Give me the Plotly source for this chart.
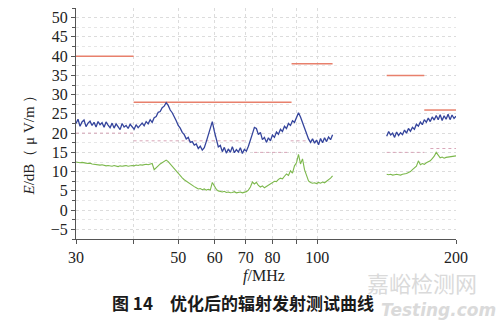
import numpy as np
import plotly.graph_objects as go

# ---- data ----
seg1_range = (30, 108)     # MHz, first measured band
seg2_range = (141.5, 200)  # MHz, second measured band

blue1 = [22.5, 23.6, 21.8, 22.9, 23.4, 21.7, 22.6, 23.1, 22.0, 22.8, 21.6, 23.0, 22.2, 22.7, 21.5, 22.9,
         22.1, 21.4, 22.6, 21.3, 22.4, 21.8, 20.9, 22.5, 21.6, 22.0, 21.2, 22.3, 21.5, 21.0, 22.2, 21.4, 22.0,
         22.6, 21.9, 23.0, 22.4, 23.5, 22.8, 24.0,
         24.3, 25.4, 25.6, 26.6, 27.0, 27.9,
         27.2, 26.0, 25.3, 24.0, 23.2, 22.0, 21.3, 20.2, 19.6, 18.5, 18.9, 17.6,
         17.8, 16.9, 17.2, 16.0, 16.6, 15.6, 16.2,
         17.8, 19.5, 21.8, 23.0,
         20.5, 18.0, 16.4,
         16.8, 15.2, 16.3, 14.8, 15.9, 15.0, 16.5, 14.9, 15.7, 15.1, 16.2, 14.7, 15.8, 15.3, 16.6,
         18.0, 19.8, 21.5, 21.2,
         19.6, 20.2, 18.3, 18.9, 17.6,
         18.8, 18.0, 19.5, 18.9, 20.3, 19.7, 21.0, 20.4, 21.8, 21.2, 22.5, 22.0, 23.2, 22.8, 24.0, 25.3,
         24.2, 22.8, 21.2, 19.8, 18.5, 17.6,
         18.5, 17.4, 18.2, 17.0, 18.6, 17.5, 18.8, 17.8, 19.0, 18.3, 19.6]

green1 = [12.5, 12.4, 12.3, 12.4, 12.2, 12.2, 12.1, 12.2, 12.0, 11.9, 12.0, 11.8, 11.7, 11.8, 11.6, 11.5,
          11.6, 11.5, 11.4, 11.6, 11.5, 11.3, 11.5, 11.4, 11.5, 11.6, 11.4, 11.5, 11.6, 11.5, 11.7, 11.6,
          11.8, 11.7, 11.8, 11.9, 11.8, 12.0, 12.1,
          10.5, 10.9,
          11.5, 12.0, 12.4, 12.7, 13.0,
          12.6, 12.0, 11.3, 10.6, 10.0, 9.4, 8.9, 8.4, 7.9, 7.5, 7.1, 6.7, 6.4, 6.1, 5.8, 5.5,
          5.6, 5.3, 5.5, 5.2, 5.4, 5.2,
          7.2, 6.3, 5.4,
          5.0, 4.8, 4.7, 4.9, 4.6, 4.7, 4.5, 4.6, 4.8, 4.5, 4.6, 4.7, 4.5, 4.6, 4.8,
          5.2, 6.0, 7.3, 6.8, 7.2,
          6.4, 6.0, 6.3, 5.8, 6.1,
          6.4, 6.8, 7.0, 7.5, 7.4, 8.0, 8.3, 8.1, 8.8, 9.4, 9.0,
          10.2, 9.6, 11.5, 12.3, 14.5,
          12.0, 13.3, 10.5, 9.0, 7.6, 7.2,
          7.0, 7.1, 6.9, 7.2, 7.0, 7.3, 7.1, 7.5, 7.8, 8.3, 8.9]

blue2 = [19.2, 20.4, 19.5, 20.0, 18.9, 20.3, 19.4, 20.1, 19.6, 20.8, 20.0, 21.2, 20.5, 21.5, 21.0, 22.3,
         21.8, 22.9, 22.2, 23.5, 22.8, 23.9, 23.0, 24.2, 23.4, 24.6, 23.5, 24.8, 23.3, 24.5, 23.6, 24.9,
         23.5, 24.7, 23.8, 24.4]

green2 = [9.3, 9.2, 9.3, 9.1, 9.2, 9.3, 9.2, 9.1, 9.3, 9.4, 9.5,
          9.8, 10.0, 10.5, 10.9, 11.4, 12.8,
          11.8, 12.1, 11.9, 12.3,
          12.5, 12.8, 13.4, 14.0, 15.0,
          14.2, 13.6, 13.8, 13.5, 13.7, 13.8, 13.9, 14.0, 14.0, 14.1]

# limit segments: (f_start, f_end, level)
peak_limits = [(30, 40, 40), (40, 88, 28), (88, 108, 38), (141.5, 170.7, 35), (170.7, 200, 26)]
avg_limits = [(30, 40, 20), (40, 70.4, 18), (73, 87.6, 15), (87.6, 94.4, 18),
              (141.5, 170.7, 15), (176, 200, 16)]

x_tickvals = [30, 40, 50, 60, 70, 80, 90, 100, 200]
x_ticktext = ["30", "", "50", "60", "70", "80", "", "100", "200"]
y_tickvals = [50, 45, 40, 35, 30, 25, 20, 15, 10, 5, 0, -5]
y_ticktext = ["50", "45", "40", "35", "30", "25", "20", "15", "10", "5", "0", "−5"]

f1 = np.geomspace(seg1_range[0], seg1_range[1], len(blue1))
f2 = np.geomspace(seg2_range[0], seg2_range[1], len(blue2))

BLUE = "#34449c"
GREEN = "#7cb84c"
RED = "#e8806c"
PINK = "#d8a6b8"
serif = "Liberation Serif"

fig = go.Figure()

for a, b, lvl in avg_limits:
    fig.add_trace(go.Scatter(x=[a, b], y=[lvl, lvl], mode="lines",
                             line=dict(color=PINK, width=1, dash="dot"),
                             showlegend=False, hoverinfo="skip"))
for a, b, lvl in peak_limits:
    fig.add_trace(go.Scatter(x=[a, b], y=[lvl, lvl], mode="lines",
                             line=dict(color=RED, width=1.5),
                             showlegend=False, hoverinfo="skip"))

fig.add_trace(go.Scatter(x=f1, y=green1, mode="lines", line=dict(color=GREEN, width=1.1), showlegend=False))
fig.add_trace(go.Scatter(x=f2, y=green2, mode="lines", line=dict(color=GREEN, width=1.1), showlegend=False))
fig.add_trace(go.Scatter(x=f1, y=blue1, mode="lines", line=dict(color=BLUE, width=1.3), showlegend=False))
fig.add_trace(go.Scatter(x=f2, y=blue2, mode="lines", line=dict(color=BLUE, width=1.3), showlegend=False))

fig.update_layout(
    width=500, height=323,
    margin=dict(l=76, r=44, t=8, b=84),
    paper_bgcolor="white", plot_bgcolor="white",
    xaxis=dict(type="log", range=[np.log10(30), np.log10(200)],
               tickvals=x_tickvals, ticktext=x_ticktext,
               showline=True, linecolor="#555555", linewidth=1,
               ticks="outside", ticklen=4, tickcolor="#555555",
               showgrid=True, gridcolor="#dcdcdc", griddash="dot", gridwidth=1,
               tickfont=dict(family=serif, size=16, color="#222222"),
               zeroline=False),
    yaxis=dict(range=[-7.5, 52.5], tickvals=y_tickvals, ticktext=y_ticktext,
               showline=True, linecolor="#555555", linewidth=1,
               ticks="outside", ticklen=4, tickcolor="#555555",
               showgrid=True, gridcolor="#dcdcdc", griddash="dot", gridwidth=1,
               minor=dict(dtick=2.5, showgrid=True, gridcolor="#e6e6e6", griddash="dot",
                          ticks="outside", ticklen=3, tickcolor="#555555"),
               tickfont=dict(family=serif, size=16, color="#222222"),
               zeroline=False),
)

fig.add_annotation(text="<i>E</i>/dB（ μ V/m ）", xref="paper", yref="paper",
                   x=-0.125, y=0.42, xanchor="center", yanchor="middle", textangle=-90,
                   showarrow=False, font=dict(family=serif, size=15, color="#222222"))
fig.add_annotation(text="<i>f</i>/MHz", xref="paper", yref="paper",
                   x=0.495, y=-0.16, xanchor="center", yanchor="middle",
                   showarrow=False, font=dict(family=serif, size=16, color="#222222"))
fig.add_annotation(text="嘉峪检测网", xref="paper", yref="paper",
                   x=0.91, y=-0.185, xanchor="center", yanchor="middle",
                   showarrow=False, font=dict(family="Noto Sans CJK SC", size=22, color="#dadada"))
fig.add_annotation(text="<b><i>Testing.com</i></b>", xref="paper", yref="paper",
                   x=0.955, y=-0.307, xanchor="center", yanchor="middle",
                   showarrow=False, font=dict(family="DejaVu Sans", size=17, color="#dadada"))
fig.add_annotation(text="<b>图 14　优化后的辐射发射测试曲线</b>", xref="paper", yref="paper",
                   x=0.44, y=-0.277, xanchor="center", yanchor="middle",
                   showarrow=False, font=dict(family="Noto Sans CJK SC", size=17, color="#1a1a1a"))

fig.write_html("out.html")
